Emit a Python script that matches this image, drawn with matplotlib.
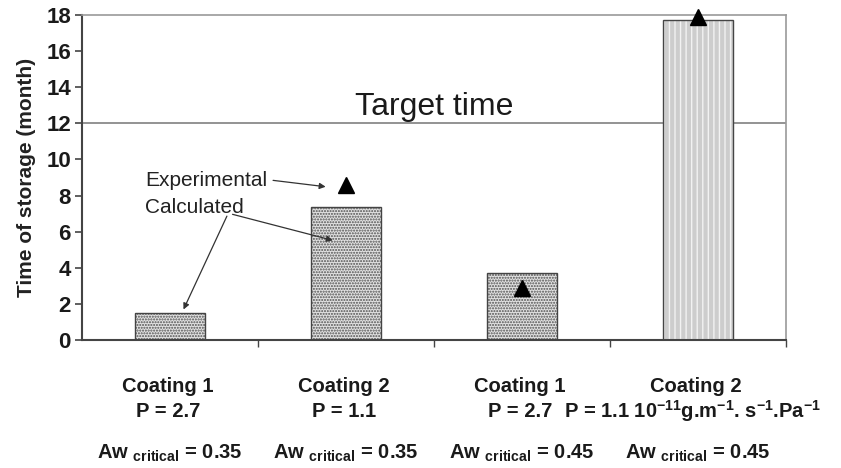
import matplotlib
matplotlib.use("Agg")
import matplotlib.pyplot as plt
import numpy as np

plt.rcParams['font.family'] = ['Liberation Sans', 'DejaVu Sans']
plt.rcParams['mathtext.default'] = 'regular'
plt.rcParams['hatch.linewidth'] = 1.0

# Data
coatings = ["Coating 1", "Coating 2", "Coating 1", "Coating 2"]
p_labels = ["P = 2.7", "P = 1.1", "P = 2.7",
            "P = 1.1 10$^{-11}$g.m$^{-1}$. s$^{-1}$.Pa$^{-1}$"]
aw_labels = ["Aw $_{critical}$ = 0.35", "Aw $_{critical}$ = 0.35",
             "Aw $_{critical}$ = 0.45", "Aw $_{critical}$ = 0.45"]
calculated = [1.5, 7.35, 3.7, 17.7]
experimental = [np.nan, 8.6, 2.9, 17.9]
target_time = 12
yticks = [0, 2, 4, 6, 8, 10, 12, 14, 16, 18]

fig = plt.figure(figsize=(8.41, 4.68), dpi=100)
ax = fig.add_axes([82/841, (468-340)/468, (786-82)/841, 325/468])

x = np.arange(len(calculated))
w = 0.4
face = ['#e2e2e2', '#e2e2e2', '#e2e2e2', '#cdcdcd']
hatches = ['......', '......', '......', '|||']
hcols = ['#505050', '#505050', '#505050', '#f2f2f2']
for i in range(len(calculated)):
    ax.bar(x[i], calculated[i], width=w, color=face[i], hatch=hatches[i],
           edgecolor=hcols[i], linewidth=0, zorder=2)
    ax.bar(x[i], calculated[i], width=w, fill=False, edgecolor='#444444',
           linewidth=1.0, zorder=3)

ax.plot(x, experimental, linestyle='none', marker='^', color='black',
        markersize=12, zorder=5, clip_on=False)

ax.axhline(target_time, color='#8a8a8a', linewidth=1.3, zorder=1)
ax.text(1.5, 12.9, "Target time", fontsize=23, ha='center', va='center',
        color='#1a1a1a')

# annotations
ax.text(-0.14, 8.86, "Experimental", fontsize=15, ha='left', va='center',
        color='#222222')
ax.text(-0.14, 7.36, "Calculated", fontsize=15, ha='left', va='center',
        color='#222222')
ap = dict(arrowstyle='-|>', color='#333333', lw=0.9, mutation_scale=9)
ax.annotate("", xy=(0.90, 8.47), xytext=(0.57, 8.86), arrowprops=ap)
ax.annotate("", xy=(0.07, 1.55), xytext=(0.33, 7.0), arrowprops=ap)
ax.annotate("", xy=(0.94, 5.48), xytext=(0.34, 7.0), arrowprops=ap)

ax.set_xlim(-0.5, 3.5)
ax.set_ylim(0, 18)
ax.set_yticks(yticks)
ax.set_yticklabels([str(t) for t in yticks], fontsize=16, fontweight='bold',
                   color='#1a1a1a')
ax.set_xticks([0.5, 1.5, 2.5, 3.5])
ax.set_xticklabels([])
ax.tick_params(axis='y', direction='out', length=5, width=1.2, color='#444444', pad=3)
ax.tick_params(axis='x', direction='out', length=5, width=1.0, color='#444444')
ax.set_ylabel("Time of storage (month)", fontsize=15, fontweight='bold',
              color='#222222', labelpad=7)

for s in ['left', 'bottom']:
    ax.spines[s].set_color('#444444')
    ax.spines[s].set_linewidth(1.5)
for s in ['top', 'right']:
    ax.spines[s].set_color('#9a9a9a')
    ax.spines[s].set_linewidth(1.2)

trans = ax.get_xaxis_transform()
for i in range(len(coatings)):
    ax.text(x[i] - 0.01, -0.142, coatings[i], transform=trans, ha='center', va='center',
            fontsize=14.5, fontweight='bold', color='#1a1a1a')
    if i < 3:
        ax.text(x[i] - 0.01, -0.22, p_labels[i], transform=trans, ha='center', va='center',
                fontsize=14.5, fontweight='bold', color='#1a1a1a')
    else:
        ax.text(2.24, -0.22, p_labels[i], transform=trans, ha='left', va='center',
                fontsize=14.5, fontweight='bold', color='#1a1a1a')
    ax.text(x[i], -0.35, aw_labels[i], transform=trans, ha='center', va='center',
            fontsize=14.5, fontweight='bold', color='#1a1a1a')

fig.savefig("out.png", dpi=100)
